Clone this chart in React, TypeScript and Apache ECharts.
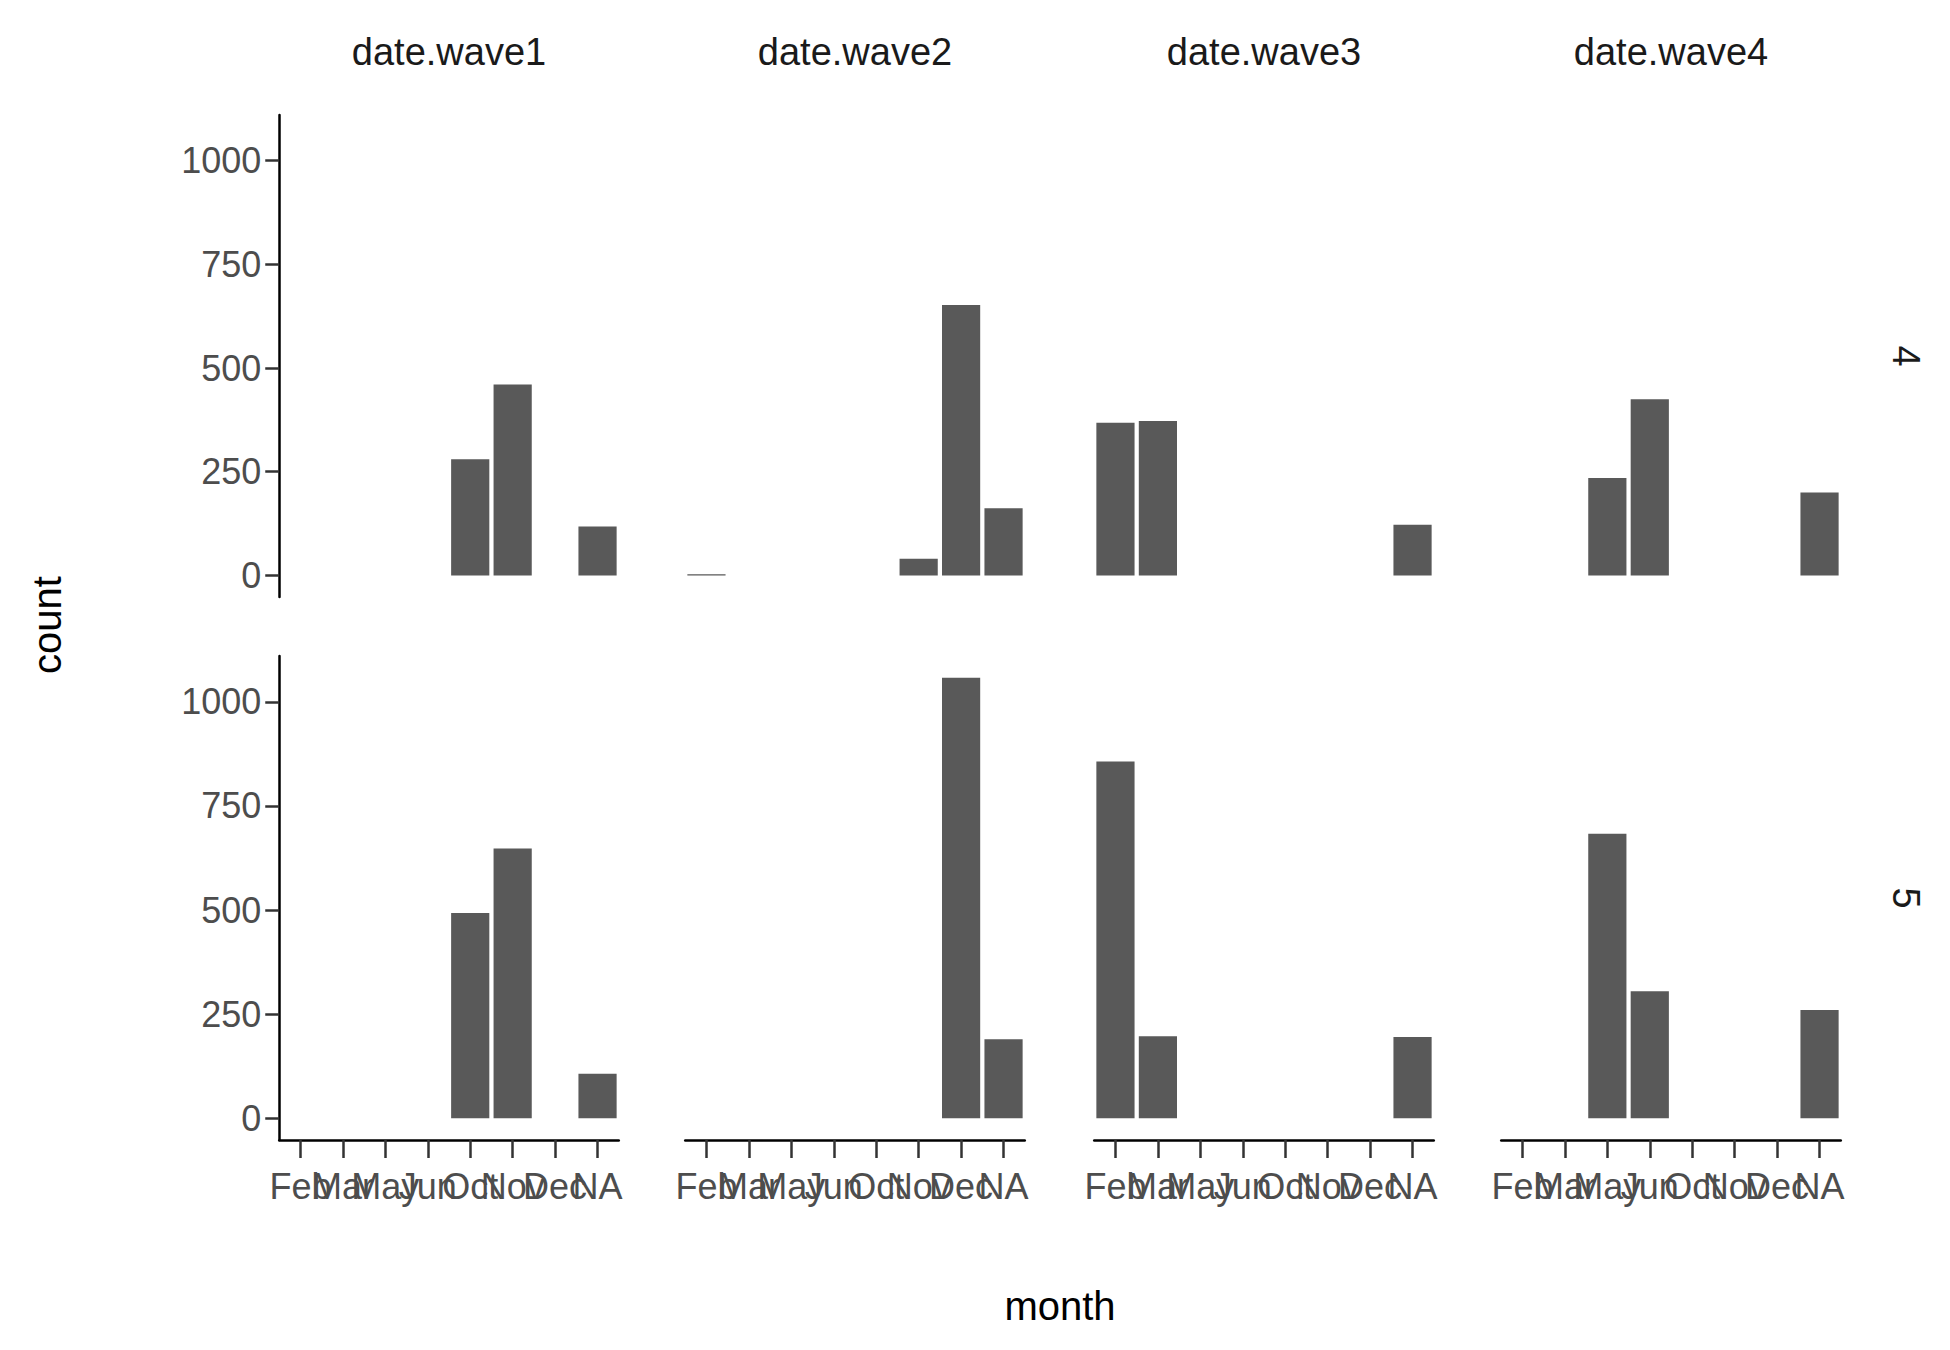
import React, { useEffect, useRef } from "react";
import * as echarts from "echarts";

const months = ["Feb", "Mar", "May", "Jun", "Oct", "Nov", "Dec", "NA"];
const waves = ["date.wave1", "date.wave2", "date.wave3", "date.wave4"];
const rows = ["4", "5"];
const yTicks = [0, 250, 500, 750, 1000];

// counts per month, [row][wave]
const row4Wave1 = [0, 0, 0, 0, 280, 460, 0, 118];
const row4Wave2 = [3, 0, 0, 0, 0, 40, 652, 162];
const row4Wave3 = [368, 372, 0, 0, 0, 0, 0, 122];
const row4Wave4 = [0, 0, 235, 425, 0, 0, 0, 200];
const row5Wave1 = [0, 0, 0, 0, 493, 648, 0, 107];
const row5Wave2 = [0, 0, 0, 0, 0, 0, 1058, 190];
const row5Wave3 = [857, 197, 0, 0, 0, 0, 0, 195];
const row5Wave4 = [0, 0, 683, 305, 0, 0, 0, 260];
const values = [
  [row4Wave1, row4Wave2, row4Wave3, row4Wave4],
  [row5Wave1, row5Wave2, row5Wave3, row5Wave4],
];

const FONT = "Liberation Sans, Arial, sans-serif";

const App: React.FC = () => {
  const chartRef = useRef<HTMLDivElement>(null);

  useEffect(() => {
    if (!chartRef.current) return;
    document.body.style.margin = "0";
    const chart = echarts.init(chartRef.current, undefined, { renderer: "svg" });

    const lefts = [275, 681, 1090, 1497];
    const width = 348;
    const tops = [115, 656];
    const heights = [482, 484];
    const inset = width / 8.2 * 0.1;

    const grids: any[] = [];
    const xAxes: any[] = [];
    const yAxes: any[] = [];
    const series: any[] = [];

    rows.forEach((_, r) => {
      waves.forEach((_, c) => {
        const idx = grids.length;
        grids.push({
          left: lefts[c] + inset,
          width: width - 2 * inset,
          top: tops[r],
          height: heights[r],
        });
        const bottomRow = r === rows.length - 1;
        xAxes.push({
          type: "category",
          gridIndex: idx,
          data: months,
          axisLine: { show: bottomRow, onZero: false, lineStyle: { color: "#000", width: 2.5 } },
          axisTick: { show: bottomRow, alignWithLabel: true, length: 18, lineStyle: { color: "#333", width: 2.5 } },
          axisLabel: {
            show: bottomRow,
            interval: 0,
            margin: 28,
            color: "#4d4d4d",
            fontSize: 36,
            fontFamily: FONT,
          },
        });
        const firstCol = c === 0;
        yAxes.push({
          type: "value",
          gridIndex: idx,
          min: -52,
          max: 1110,
          splitLine: { show: false },
          axisLine: { show: firstCol, lineStyle: { color: "#000", width: 2.5 } },
          axisTick: { show: firstCol, length: 14, customValues: yTicks, lineStyle: { color: "#333", width: 2.5 } },
          axisLabel: {
            show: firstCol,
            customValues: yTicks,
            formatter: (v: number) => String(v),
            margin: 18,
            color: "#4d4d4d",
            fontSize: 36,
            fontFamily: FONT,
          },
        });
        series.push({
          type: "bar",
          xAxisIndex: idx,
          yAxisIndex: idx,
          data: values[r][c],
          barWidth: "90%",
          itemStyle: { color: "#595959" },
        });
      });
    });

    const graphic: any[] = [];
    waves.forEach((w, c) => {
      graphic.push({
        type: "text",
        x: lefts[c] + width / 2,
        y: 52,
        style: { text: w, fontSize: 38, fontFamily: FONT, fill: "#1a1a1a", align: "center", verticalAlign: "middle" },
      });
    });
    rows.forEach((rl, r) => {
      graphic.push({
        type: "text",
        x: 1906,
        y: tops[r] + heights[r] / 2,
        rotation: -Math.PI / 2,
        style: { text: rl, fontSize: 38, fontFamily: FONT, fill: "#1a1a1a", align: "center", verticalAlign: "middle" },
      });
    });
    graphic.push({
      type: "text",
      x: 47,
      y: 625,
      rotation: Math.PI / 2,
      style: { text: "count", fontSize: 40, fontFamily: FONT, fill: "#000", align: "center", verticalAlign: "middle" },
    });
    graphic.push({
      type: "text",
      x: 1060,
      y: 1306,
      style: { text: "month", fontSize: 40, fontFamily: FONT, fill: "#000", align: "center", verticalAlign: "middle" },
    });

    chart.setOption({
      animation: false,
      backgroundColor: "#fff",
      grid: grids,
      xAxis: xAxes,
      yAxis: yAxes,
      series,
      graphic,
    });

    return () => chart.dispose();
  }, []);

  return <div ref={chartRef} style={{ width: 1950, height: 1350 }} />;
};

export default App;
